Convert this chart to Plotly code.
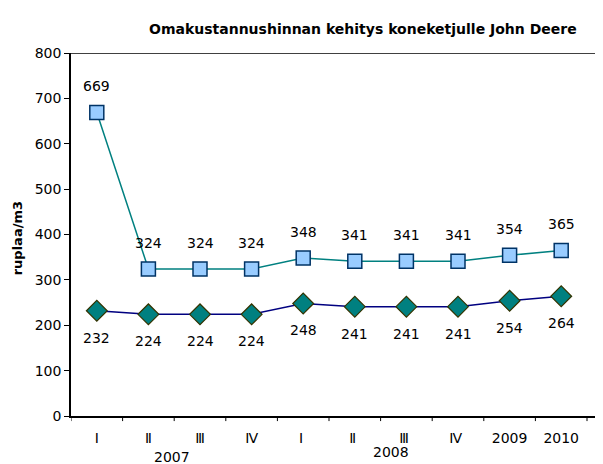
import plotly.graph_objects as go

categories = ["I", "Ⅱ", "Ⅲ", "Ⅳ", "I ", "Ⅱ ", "Ⅲ ", "Ⅳ ", "2009", "2010"]
upper_values = [669, 324, 324, 324, 348, 341, 341, 341, 354, 365]
lower_values = [232, 224, 224, 224, 248, 241, 241, 241, 254, 264]
year_labels = ["2007", "2008"]
year_positions = [1.45, 5.7]
year_shifts = [-41, -36]
y_ticks = [0, 100, 200, 300, 400, 500, 600, 700, 800]

xs = list(range(len(categories)))
font = "DejaVu Sans, Arial, sans-serif"

fig = go.Figure()
fig.add_trace(go.Scatter(
    x=xs, y=upper_values, mode="lines+markers",
    line=dict(color="#008080", width=1.5),
    marker=dict(symbol="square", size=14, color="#99CCFF",
                line=dict(color="#003366", width=1.5)),
    showlegend=False, hoverinfo="skip"))
fig.add_trace(go.Scatter(
    x=xs, y=lower_values, mode="lines+markers",
    line=dict(color="#000080", width=1.5),
    marker=dict(symbol="diamond", size=16, color="#008080",
                line=dict(color="#333300", width=1.2)),
    showlegend=False, hoverinfo="skip"))

annotations = []
for x, v in zip(xs, upper_values):
    annotations.append(dict(x=x, y=v, text=str(v), showarrow=False, yshift=26,
                            font=dict(family=font, size=14, color="black")))
for x, v in zip(xs, lower_values):
    annotations.append(dict(x=x, y=v, text=str(v), showarrow=False, yshift=-27,
                            font=dict(family=font, size=14, color="black")))
for x, t, s in zip(year_positions, year_labels, year_shifts):
    annotations.append(dict(x=x, y=0, yref="y", text=t, showarrow=False, yshift=s,
                            font=dict(family=font, size=14, color="black")))
annotations.append(dict(x=0.549, xref="paper", y=1, yref="paper", yshift=34,
                        text="<b>Omakustannushinnan kehitys koneketjulle John Deere</b>",
                        showarrow=False, font=dict(family=font, size=14, color="black")))
annotations.append(dict(x=-0.119, xref="paper", y=0.49, yref="paper", textangle=-90,
                        text="<b>ruplaa/m3</b>", showarrow=False,
                        font=dict(family=font, size=13, color="black")))

fig.update_layout(
    width=595, height=456,
    margin=dict(l=63, r=0, t=45, b=48),
    paper_bgcolor="white", plot_bgcolor="white",
    annotations=annotations,
    shapes=[dict(type="line", xref="paper", yref="y", x0=0, x1=1, y0=800, y1=800,
                 line=dict(color="black", width=1.5))],
)
fig.update_xaxes(
    range=[-0.5, 9.81], tickmode="array", tickvals=xs, ticktext=categories,
    showgrid=False, zeroline=False, showline=True, linecolor="black", linewidth=1.5,
    ticks="", ticklabelstandoff=8,
    tickfont=dict(family=font, size=14, color="black"), automargin=False,
)
# category separator ticks
for i in range(len(categories) + 1):
    fig.add_shape(type="line", xref="x", yref="paper", x0=i - 0.5, x1=i - 0.5,
                  y0=0, y1=-0.014, line=dict(color="black", width=1))
fig.update_yaxes(
    range=[0, 800], tickmode="array", tickvals=y_ticks,
    showgrid=False, zeroline=False, showline=True, linecolor="black", linewidth=1.5,
    ticks="outside", ticklen=5, tickcolor="black", automargin=False,
    tickfont=dict(family=font, size=14, color="black"),
)
fig.write_html("out.html")
